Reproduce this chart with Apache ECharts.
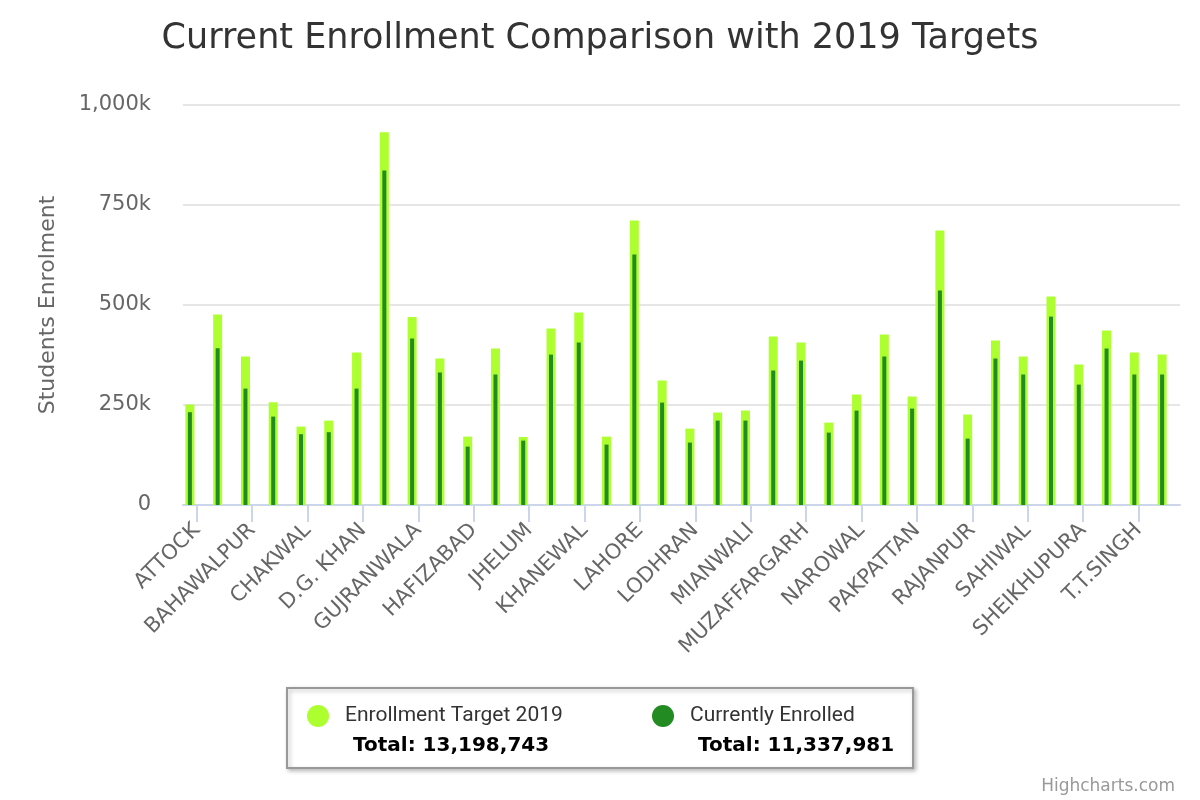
<!DOCTYPE html>
<html>
<head>
<meta charset="utf-8">
<script src="https://cdn.jsdelivr.net/npm/echarts@6/dist/echarts.min.js"></script>
<style>
html,body{margin:0;padding:0;background:#fff;}
#chart{width:1200px;height:800px;}
</style>
</head>
<body>
<div id="chart"></div>
<script>
const titleText = 'Current Enrollment Comparison with 2019 Targets';
const yAxisTitle = 'Students Enrolment';
const creditsText = 'Highcharts.com';
const districts = ['ATTOCK','BAHAWALNAGAR','BAHAWALPUR','BHAKKAR','CHAKWAL','CHINIOT','D.G. KHAN','FAISALABAD','GUJRANWALA','GUJRAT','HAFIZABAD','JHANG','JHELUM','KASUR','KHANEWAL','KHUSHAB','LAHORE','LAYYAH','LODHRAN','M.B.DIN','MIANWALI','MULTAN','MUZAFFARGARH','NANKANA SAHIB','NAROWAL','OKARA','PAKPATTAN','R.Y.KHAN','RAJANPUR','RAWALPINDI','SAHIWAL','SARGODHA','SHEIKHUPURA','SIALKOT','T.T.SINGH','VEHARI'];
const targetName = 'Enrollment Target 2019';
const enrolledName = 'Currently Enrolled';
const target2019 = [251000,476000,371000,257000,196000,211000,381000,932000,470000,366000,171000,391000,170000,441000,481000,171000,711000,311000,191000,231000,236000,421000,406000,206000,276000,426000,271000,686000,226000,411000,371000,521000,351000,436000,381000,376000];
const enrolled = [232000,392000,291000,221000,177000,182000,291000,836000,416000,331000,146000,326000,161000,376000,406000,151000,626000,256000,156000,211000,211000,336000,361000,181000,236000,371000,241000,536000,166000,366000,326000,471000,301000,391000,326000,326000];
const targetTotal = '13,198,743';
const enrolledTotal = '11,337,981';
const yTickLabels = ['0','250k','500k','750k','1,000k'];

const lightGreen = '#ADFF2F';
const darkGreen = '#228B22';
const baseFont = "'DejaVu Sans', 'Lucida Grande', sans-serif";
const legendFont = "'Roboto', 'DejaVu Sans', sans-serif";

const chart = echarts.init(document.getElementById('chart'), null, {renderer:'canvas'});

function legendCfg(name, total, color, left){
  return {
    show: true,
    data: [name],
    left: left,
    top: 705,
    padding: 0,
    icon: 'none',
    itemWidth: 0,
    itemHeight: 0,
    selectedMode: false,
    z: 10,
    formatter: function(n){ return '{dot| }{nm|' + n + '}\n{sp| }{tot|Total: ' + total + '}'; },
    textStyle: {
      rich: {
        dot: {width: 22, height: 22, borderRadius: 11, backgroundColor: color, lineHeight: 30},
        nm: {fontFamily: legendFont, fontSize: 21, color: '#333', padding: [0,0,0,16], lineHeight: 30},
        sp: {width: 46, lineHeight: 30},
        tot: {fontFamily: baseFont, fontSize: 20, fontWeight: 'bold', color: '#000', lineHeight: 30}
      }
    }
  };
}

const option = {
  backgroundColor: '#fff',
  animation: false,
  title: [
    {text: titleText, left: 'center', top: 16, textStyle: {fontFamily: baseFont, fontSize: 35, fontWeight: 'normal', color: '#333'}},
    {text: creditsText, right: 20, top: 773, textStyle: {fontFamily: baseFont, fontSize: 17, fontWeight: 'normal', color: '#999'}}
  ],
  legend: [
    legendCfg(targetName, targetTotal, lightGreen, 302),
    legendCfg(enrolledName, enrolledTotal, darkGreen, 647)
  ],
  graphic: [
    {type: 'rect', z: 1, shape: {x: 287, y: 688, width: 626, height: 80},
     style: {fill: '#fff', stroke: '#999', lineWidth: 2, shadowBlur: 4, shadowOffsetX: 2, shadowOffsetY: 2, shadowColor: 'rgba(0,0,0,0.25)'}}
  ],
  grid: [
    {left: 176, width: 1000, top: 105, height: 400},
    {left: 183, width: 997, top: 105, height: 400}
  ],
  xAxis: [
    {type: 'category', gridIndex: 0, data: districts, show: false},
    {type: 'category', gridIndex: 0, data: districts, show: false},
    {type: 'category', gridIndex: 1, data: districts,
     axisLine: {show: true, lineStyle: {color: '#ccd6eb', width: 2}},
     axisTick: {show: true, interval: 1, alignWithLabel: true, length: 17, lineStyle: {color: '#ccd6eb', width: 2}},
     axisLabel: {interval: 1, rotate: 45, margin: 22, fontFamily: baseFont, fontSize: 21, color: '#666'},
     splitLine: {show: false}}
  ],
  yAxis: [
    {type: 'value', gridIndex: 0, min: 0, max: 1000000, interval: 250000, show: false, splitLine: {show: false}},
    {type: 'value', gridIndex: 1, min: 0, max: 1000000, interval: 250000,
     name: yAxisTitle, nameLocation: 'middle', nameGap: 124,
     nameTextStyle: {fontFamily: baseFont, fontSize: 22, color: '#666'},
     axisLine: {show: false}, axisTick: {show: false},
     axisLabel: {margin: 32, fontFamily: baseFont, fontSize: 21, color: '#666',
       formatter: function(v){ return yTickLabels[Math.round(v/250000)]; }},
     splitLine: {show: true, lineStyle: {color: '#e6e6e6', width: 2}}}
  ],
  series: [
    {name: targetName, type: 'bar', xAxisIndex: 0, yAxisIndex: 0, data: target2019, barWidth: 9, itemStyle: {color: lightGreen}, z: 2},
    {name: enrolledName, type: 'bar', xAxisIndex: 1, yAxisIndex: 0, data: enrolled, barWidth: 4, itemStyle: {color: darkGreen}, z: 3}
  ]
};
chart.setOption(option);
</script>
</body>
</html>
